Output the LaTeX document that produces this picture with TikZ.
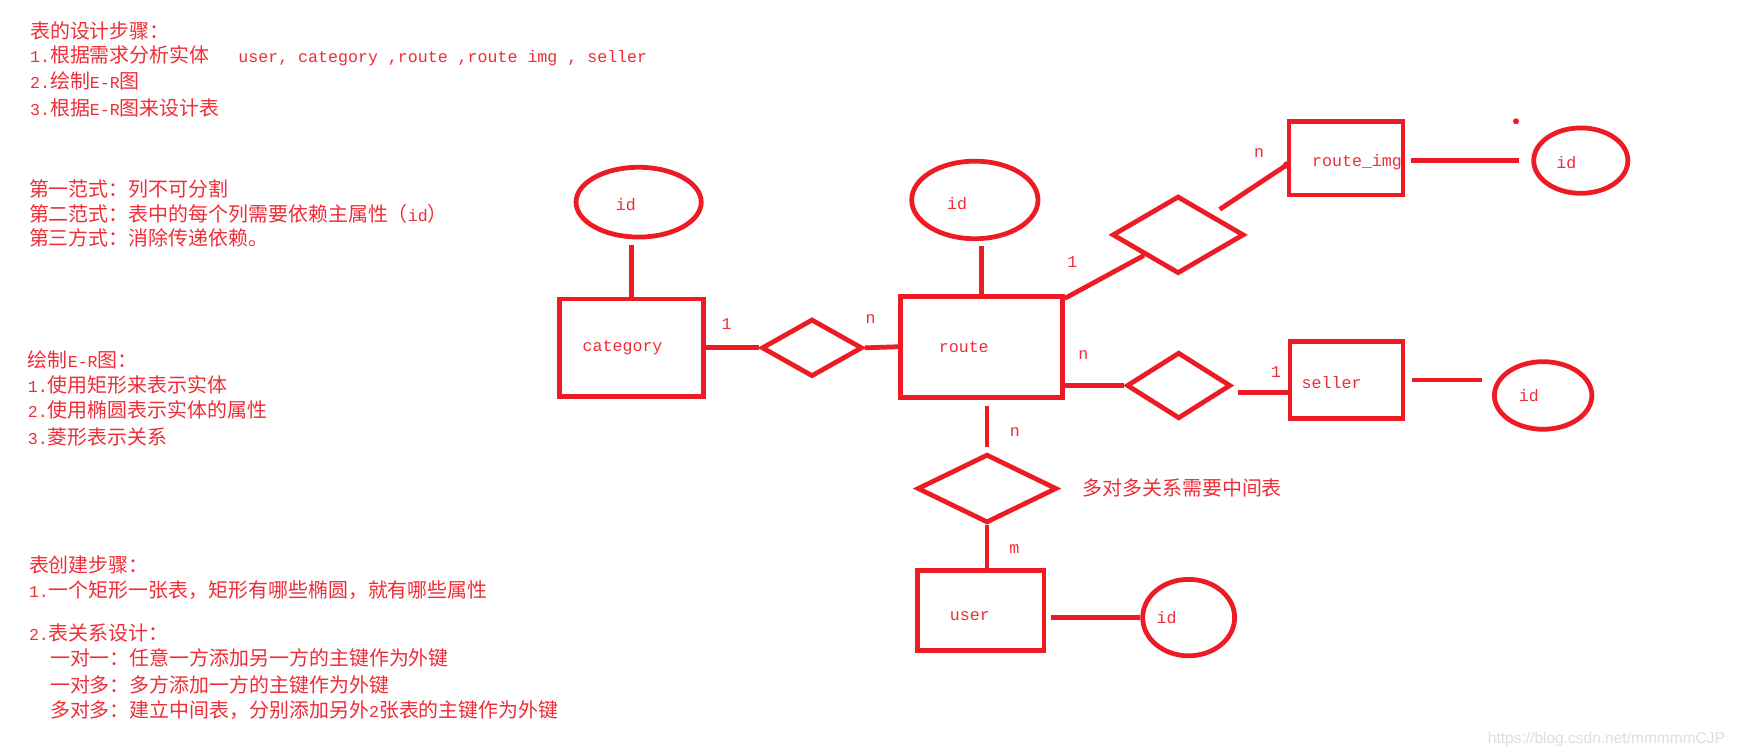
\documentclass[tikz,border=0pt]{standalone}
\usepackage{fontspec}
\setmainfont{Noto Sans CJK SC}
\newfontfamily\mono{Liberation Mono}[Scale=0.8333]
\newfontfamily\wmfont{Liberation Sans}
\usetikzlibrary{shapes.geometric}
\definecolor{erred}{RGB}{237,28,36}
\definecolor{txtred}{RGB}{240,45,55}
\tikzset{
  ent/.style={draw=erred, line width=4.3pt, inner sep=0pt},
  attr/.style={ellipse, draw=erred, line width=4.3pt, inner sep=0pt},
  rel/.style={diamond, draw=erred, line width=4.3pt, inner sep=0pt},
  lnk/.style={draw=erred, line width=4.3pt},
  tag/.style={text=txtred, inner sep=0pt, font=\fontsize{18}{20}\selectfont\mono},
  note/.style={anchor=base west, text=txtred, inner sep=0pt, font=\fontsize{18}{23}\selectfont},
}

\begin{document}
\begin{tikzpicture}[x=1pt,y=-1pt]
\fill[white] (0,0) rectangle (1568,682);
\useasboundingbox (0,0) rectangle (1568,682);

% notes on the left
\node[note] (t1) at (27,35) {表的设计步骤：};
\node[note] (t2) at (27,56.5) {{\mono 1.}根据需求分析实体\hspace{26pt}{\mono user, category ,route ,route img , seller}};
\node[note] (t3) at (27,80) {{\mono 2.}绘制{\mono E-R}图};
\node[note] (t4) at (27,104) {{\mono 3.}根据{\mono E-R}图来设计表};

\node[note] (t5) at (26,177) {第一范式：列不可分割};
\node[note] (t6) at (26,199.5) {第二范式：表中的每个列需要依赖主属性（{\mono id}）};
\node[note] (t7) at (26,222) {第三方式：消除传递依赖。};

\node[note] (t8) at (25,332) {绘制{\mono E-R}图：};
\node[note] (t9) at (25,354.5) {{\mono 1.}使用矩形来表示实体};
\node[note] (t10) at (25,377) {{\mono 2.}使用椭圆表示实体的属性};
\node[note] (t11) at (25,401) {{\mono 3.}菱形表示关系};

\node[note] (t12) at (26,517) {表创建步骤：};
\node[note] (t13) at (26,539.6) {{\mono 1.}一个矩形一张表，矩形有哪些椭圆，就有哪些属性};
\node[note] (t14) at (26,578.4) {{\mono 2.}表关系设计：};
\node[note] (t15) at (45,601) {一对一：任意一方添加另一方的主键作为外键};
\node[note] (t16) at (45,625) {一对多：多方添加一方的主键作为外键};
\node[note] (t17) at (45,648) {多对多：建立中间表，分别添加另外{\mono 2}张表的主键作为外键};

% entities
\node[ent, minimum width=130pt, minimum height=88pt,
  label={[tag, xshift=-8pt]center:category}] (cat) at (570,314) {};
\node[ent, minimum width=146pt, minimum height=91pt,
  label={[tag, xshift=-16pt]center:route}] (route) at (886,313) {};
\node[ent, minimum width=103pt, minimum height=66pt,
  label={[tag, xshift=10pt, yshift=-3pt]center:route\_img}] (rimg) at (1215,143) {};
\node[ent, minimum width=102pt, minimum height=69pt,
  label={[tag, xshift=-13.5pt, yshift=-2.5pt]center:seller}] (seller) at (1215.5,343) {};
\node[ent, minimum width=114pt, minimum height=72pt,
  label={[tag, xshift=-10pt, yshift=-5.6pt]center:user}] (user) at (885.5,551) {};

% attributes
\node[attr, minimum width=113pt, minimum height=63pt,
  label={[tag, xshift=-11.5pt, yshift=-2.5pt]center:id}] (catid) at (576.5,182.5) {};
\node[attr, minimum width=114pt, minimum height=70pt,
  label={[tag, xshift=-16pt, yshift=-3pt]center:id}] (rid) at (880,180.5) {};
\node[attr, minimum width=85pt, minimum height=59pt,
  label={[tag, xshift=-13pt, yshift=-2pt]center:id}] (imgid) at (1427,145) {};
\node[attr, minimum width=88pt, minimum height=61pt,
  label={[tag, xshift=-13pt]center:id}] (sellid) at (1393,357) {};
\node[attr, minimum width=83pt, minimum height=69pt,
  label={[tag, xshift=-20pt]center:id}] (uid) at (1073,557.5) {};

% relations
\node[rel, minimum width=91pt, minimum height=52pt] (d1) at (733,314) {};
\node[rel, minimum width=119pt, minimum height=70pt] (d2) at (1063.5,212) {};
\node[rel, minimum width=94pt, minimum height=60pt] (d3) at (1064,348) {};
\node[rel, minimum width=126pt, minimum height=62pt] (d4) at (891,441) {};

% connectors
\draw[lnk, shorten >=5pt] (cat.north) -- (cat.north |- catid.south);
\draw[lnk, shorten >=4pt] (route.north) -- (route.north |- rid.south);
\draw[lnk] (cat.east) -- (d1.west);
\draw[lnk] (d1.east) -- (route.west);
\draw[lnk] ([yshift=-4pt]route.north east) -- (d2.south west);
\draw[lnk, shorten <=8pt] (d2.north east) -- ([yshift=-6pt]rimg.west);
\fill[erred] ([yshift=-6pt]rimg.west) circle[radius=3.3pt];
\draw[lnk, shorten <=5pt, shorten >=11pt] (rimg.east |- imgid.west) -- (imgid.west);
\draw[lnk] (d3.west) -- (d3.west -| route.east);
\draw[lnk, shorten <=4pt] ([yshift=-6pt]d3.east) -- ([yshift=-6pt]d3.east -| seller.west);
\draw[lnk, shorten <=6pt, shorten >=9pt] (seller.east) -- (seller.east -| sellid.west);
\draw[lnk, shorten <=6pt, shorten >=4pt] (d4.north |- route.south) -- (d4.north);
\draw[lnk] (d4.south) -- (d4.south |- user.north);
\draw[lnk, shorten <=4pt] (uid.west -| user.east) -- (uid.west);
\fill[erred] (1368.5,109.5) circle[radius=2.7pt];

% cardinalities
\node[tag] (k1) at (656,292.5) {1};
\node[tag] (k2) at (786,288) {n};
\node[tag] (k3) at (968,236.6) {1};
\node[tag] (k4) at (1136.6,137.8) {n};
\node[tag] (k5) at (978,320.6) {n};
\node[tag] (k6) at (1152,335.5) {1};
\node[tag] (k7) at (916.2,389.7) {n};
\node[tag] (k8) at (915.6,496) {m};

\node[note] (mid) at (977,447) {多对多关系需要中间表};
\node[anchor=base west, inner sep=0pt, text=black!13, font=\wmfont\fontsize{14}{14}\selectfont] (wm) at (1343,671) {https://blog.csdn.net/mmmmmCJP};
\end{tikzpicture}
\end{document}
